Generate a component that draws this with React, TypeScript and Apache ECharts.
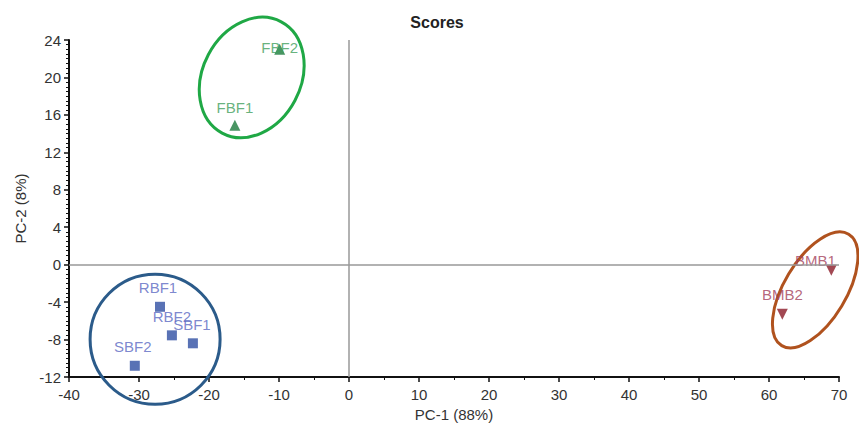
import React, { useEffect, useRef } from "react";
import * as echarts from "echarts";

// Scores (PC-1 vs PC-2)
const fbfNames = ["FBF1", "FBF2"];
const fbfX = [-16.3, -9.9];
const fbfY = [14.9, 23.0];

const sqNames = ["RBF1", "RBF2", "SBF1", "SBF2"];
const sqX = [-27.0, -25.3, -22.3, -30.6];
const sqY = [-4.5, -7.55, -8.4, -10.8];

const bmbNames = ["BMB1", "BMB2"];
const bmbX = [68.9, 61.9];
const bmbY = [-0.6, -5.3];

// group ellipses (centres in score units)
const ellipseCx = [-13.9, -27.7, 66.6];
const ellipseCy = [20.0, -7.97, -2.7];

const xTicks = { min: -40, max: 70, interval: 10 };
const yTicks = { min: -12, max: 24, interval: 4 };

// presentation (pixel) settings kept separately
const ellipseStyle = [
  { rx: 63, ry: 49, rot: 62, color: "#1fa845" },
  { rx: 65, ry: 65, rot: 0, color: "#2b5b8a" },
  { rx: 65, ry: 31, rot: 59, color: "#b0521e" },
];
const labelOffsets: Record<string, number[]> = {
  FBF1: [0, -18],
  FBF2: [0, -2],
  RBF1: [-2, -19],
  RBF2: [0, -19],
  SBF1: [-1, -19],
  SBF2: [-2, -19],
  BMB1: [-16, -10],
  BMB2: [0, -20],
};

const FONT = "Liberation Sans, Arial, sans-serif";

function pts(names: string[], xs: number[], ys: number[], color: string) {
  return names.map((n, i) => ({
    name: n,
    value: [xs[i], ys[i]],
    label: {
      show: true,
      position: "inside",
      offset: labelOffsets[n],
      formatter: n,
      color,
      fontSize: 15,
      fontFamily: FONT,
    },
  }));
}

export default function App() {
  const ref = useRef<HTMLDivElement>(null);
  useEffect(() => {
    if (!ref.current) return;
    const chart = echarts.init(ref.current, undefined, { renderer: "svg" });
    const axisCommon = {
      axisLine: { show: true, onZero: false, lineStyle: { color: "#111", width: 2 } },
      axisTick: { show: true, length: 5, lineStyle: { color: "#111", width: 1.5 } },
      minorTick: { show: true, length: 3, lineStyle: { color: "#111", width: 1 } },
      splitLine: { show: false },
      axisLabel: { color: "#333", fontSize: 15, fontFamily: FONT },
      nameTextStyle: { color: "#333", fontSize: 15, fontFamily: FONT },
    };
    chart.setOption({
      animation: false,
      backgroundColor: "#fff",
      title: {
        text: "Scores",
        left: 432,
        top: 9,
        textAlign: "center",
        textStyle: { fontSize: 16, fontWeight: "bold", color: "#222", fontFamily: FONT },
      },
      grid: { left: 69, right: 20, top: 40, bottom: 47 },
      xAxis: {
        type: "value",
        ...xTicks,
        name: "PC-1 (88%)",
        nameLocation: "middle",
        nameGap: 30,
        ...axisCommon,
        minorTick: { ...axisCommon.minorTick, splitNumber: 2 },
        axisLabel: { ...axisCommon.axisLabel, margin: 10 },
      },
      yAxis: {
        type: "value",
        ...yTicks,
        name: "PC-2 (8%)",
        nameLocation: "middle",
        nameGap: 40,
        ...axisCommon,
        minorTick: { ...axisCommon.minorTick, splitNumber: 8 },
        axisLabel: { ...axisCommon.axisLabel, margin: 8 },
      },
      series: [
        {
          type: "scatter",
          symbol: "triangle",
          symbolSize: 11,
          itemStyle: { color: "#1c7a3c" },
          data: pts(fbfNames, fbfX, fbfY, "#3f9e5c"),
          markLine: {
            silent: true,
            symbol: ["none", "none"],
            label: { show: false },
            lineStyle: { color: "#999", width: 1.5, type: "solid" },
            data: [{ xAxis: 0 }, { yAxis: 0 }],
          },
        },
        {
          type: "scatter",
          symbol: "rect",
          symbolSize: 10,
          itemStyle: { color: "#2f4fa3" },
          data: pts(sqNames, sqX, sqY, "#5a68c2"),
        },
        {
          type: "scatter",
          symbol: "triangle",
          symbolRotate: 180,
          symbolSize: 11,
          itemStyle: { color: "#8b1a28" },
          data: pts(bmbNames, bmbX, bmbY, "#a3405a"),
        },
        {
          type: "custom",
          clip: false,
          silent: true,
          data: ellipseCx.map((x, i) => [x, ellipseCy[i]]),
          encode: { x: 0, y: 1 },
          renderItem: (params: any, api: any) => {
            const c = api.coord([api.value(0), api.value(1)]);
            const s = ellipseStyle[params.dataIndex];
            return {
              type: "ellipse",
              x: c[0],
              y: c[1],
              rotation: (s.rot * Math.PI) / 180,
              shape: { cx: 0, cy: 0, rx: s.rx, ry: s.ry },
              style: { fill: "none", stroke: s.color, lineWidth: 3 },
            };
          },
        },
      ],
    });
    return () => chart.dispose();
  }, []);
  return <div ref={ref} style={{ width: 859, height: 427, position: "absolute", left: 0, top: 0 }} />;
}
